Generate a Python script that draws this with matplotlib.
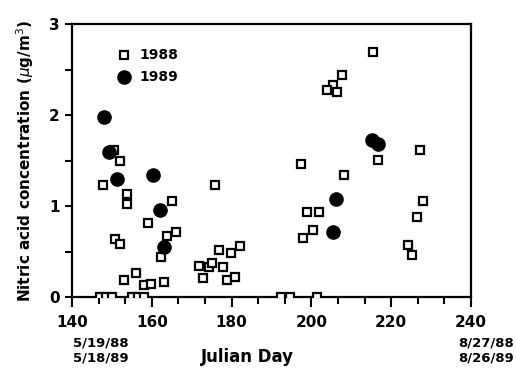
import numpy as np
import matplotlib
matplotlib.use("Agg")
import matplotlib.pyplot as plt
from matplotlib.ticker import MultipleLocator

# 1988 (open squares)
day_1988 = [147.8, 150.5, 152.0, 153.8, 153.8, 159.0, 165.0, 150.8, 152.0, 163.8,
            166.0, 162.3, 176.8, 179.8, 182.0, 153.0, 156.0, 158.0, 159.8, 163.0,
            171.8, 172.8, 174.3, 175.0, 177.8, 178.8, 180.8, 175.8,
            215.4, 207.7, 205.4, 203.9, 206.4, 227.2, 197.4, 216.7, 208.2, 228.0,
            226.5, 199.0, 201.9, 200.4, 197.9, 224.2, 225.2,
            147.0, 148.5, 150.0, 155.0, 156.5, 158.0, 192.4, 194.6, 201.4]
conc_1988 = [1.23, 1.62, 1.50, 1.13, 1.02, 0.81, 1.05, 0.64, 0.58, 0.67,
             0.71, 0.44, 0.52, 0.48, 0.56, 0.19, 0.26, 0.13, 0.14, 0.16,
             0.34, 0.21, 0.33, 0.37, 0.33, 0.19, 0.22, 1.23,
             2.69, 2.44, 2.33, 2.27, 2.25, 1.62, 1.46, 1.51, 1.34, 1.05,
             0.88, 0.93, 0.93, 0.74, 0.65, 0.57, 0.46,
             0.0, 0.0, 0.0, 0.0, 0.0, 0.0, 0.0, 0.0, 0.0]

# 1989 (filled circles)
day_1989 = [148.0, 149.3, 151.3, 160.3, 162.0, 163.0, 215.2, 216.7, 206.2, 205.4]
conc_1989 = [1.98, 1.59, 1.30, 1.34, 0.96, 0.55, 1.73, 1.68, 1.08, 0.71]

fig = plt.figure(figsize=(5.16, 3.75), dpi=100)
ax = fig.add_axes([0.1395, 0.208, 0.7733, 0.728])

ax.plot(day_1988, conc_1988, linestyle="none", marker="s", markersize=6.2,
        markerfacecolor="white", markeredgecolor="black", markeredgewidth=1.6,
        clip_on=True, zorder=3)
ax.plot(day_1989, conc_1989, linestyle="none", marker="o", markersize=9.5,
        color="black", clip_on=True, zorder=4)

# legend drawn by hand inside the axes
ax.plot([153.0], [2.66], linestyle="none", marker="s", markersize=6.2,
        markerfacecolor="white", markeredgecolor="black", markeredgewidth=1.6)
ax.plot([153.0], [2.42], linestyle="none", marker="o", markersize=9.5, color="black")
ax.text(157.0, 2.66, "1988", va="center", ha="left", fontsize=10, fontweight="bold")
ax.text(157.0, 2.42, "1989", va="center", ha="left", fontsize=10, fontweight="bold")

ax.set_xlim(140, 240)
ax.set_ylim(0, 3)
ax.xaxis.set_major_locator(MultipleLocator(20))
ax.xaxis.set_minor_locator(MultipleLocator(20 / 3))
ax.yaxis.set_major_locator(MultipleLocator(1))
ax.yaxis.set_minor_locator(MultipleLocator(0.5))
ax.tick_params(axis="both", which="both", direction="out", width=1.5,
               top=False, right=False)
ax.tick_params(axis="x", which="major", length=7, pad=6, labelsize=11)
ax.tick_params(axis="x", which="minor", length=5)
ax.tick_params(axis="y", which="major", length=5, pad=4, labelsize=11)
ax.tick_params(axis="y", which="minor", length=5)
for lab in ax.get_xticklabels() + ax.get_yticklabels():
    lab.set_fontweight("bold")
for sp in ax.spines.values():
    sp.set_linewidth(1.6)

ax.set_ylabel("Nitric acid concentration ($\\mu$g/m$^3$)", fontsize=11,
              fontweight="bold", labelpad=9)

fig.text(0.39, 0.048, "Julian Day", ha="left", va="center", fontsize=12,
         fontweight="bold")
fig.text(0.142, 0.065, "5/19/88\n5/18/89", ha="left", va="center", fontsize=9.5,
         fontweight="bold", linespacing=1.15)
fig.text(0.997, 0.065, "8/27/88\n8/26/89", ha="right", va="center", fontsize=9.5,
         fontweight="bold", linespacing=1.15)

fig.savefig("out.png", dpi=100)
